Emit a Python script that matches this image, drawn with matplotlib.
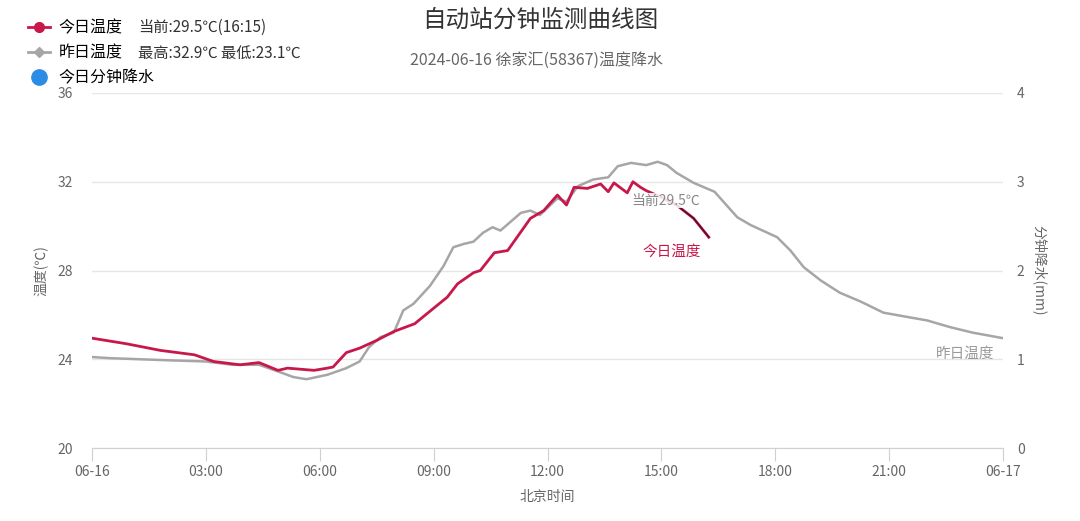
import matplotlib
matplotlib.use("Agg")
import matplotlib.pyplot as plt
from matplotlib.lines import Line2D

plt.rcParams['font.family'] = ['Noto Sans CJK SC', 'DejaVu Sans']

# 今日温度 (hours since 00:00, degC)
today_hours = [0, 0.9, 1.8, 2.7, 3.2, 3.9, 4.4, 4.9, 5.15, 5.85, 6.2, 6.35, 6.7, 7.05,
               7.5, 7.95, 8.5, 9.0, 9.36, 9.63, 10.05, 10.23, 10.6, 10.95, 11.55, 11.9,
               12.26, 12.5, 12.7, 13.05, 13.4, 13.6, 13.75, 14.1, 14.25, 14.45, 14.6,
               15.0, 15.4, 15.85, 16.25]
today_temp = [24.95, 24.7, 24.4, 24.2, 23.9, 23.75, 23.85, 23.5, 23.6, 23.5, 23.6, 23.65,
              24.3, 24.5, 24.85, 25.25, 25.6, 26.3, 26.8, 27.4, 27.9, 28.0, 28.8, 28.9,
              30.35, 30.7, 31.4, 30.95, 31.75, 31.7, 31.9, 31.55, 31.95, 31.5, 32.0,
              31.75, 31.6, 31.3, 30.95, 30.35, 29.5]

# 昨日温度
yest_hours = [0, 0.47, 2.05, 3.0, 3.7, 4.4, 4.9, 5.3, 5.65, 6.2, 6.7, 7.05, 7.3, 7.6,
              7.95, 8.2, 8.47, 8.9, 9.26, 9.52, 9.8, 10.05, 10.3, 10.55, 10.76, 11.3,
              11.55, 11.8, 12.26, 12.5, 12.8, 13.2, 13.6, 13.85, 14.2, 14.6, 14.9, 15.15,
              15.4, 15.85, 16.4, 17.0, 17.35, 18.05, 18.4, 18.75, 19.2, 19.7, 20.25,
              20.85, 21.5, 22.0, 22.6, 23.2, 24.0]
yest_temp = [24.1, 24.05, 23.95, 23.9, 23.75, 23.75, 23.45, 23.2, 23.1, 23.3, 23.6, 23.9,
             24.55, 25.0, 25.2, 26.2, 26.5, 27.3, 28.2, 29.05, 29.2, 29.3, 29.7, 29.95,
             29.8, 30.6, 30.7, 30.5, 31.25, 31.1, 31.8, 32.1, 32.2, 32.7, 32.85, 32.75,
             32.9, 32.75, 32.4, 31.95, 31.55, 30.4, 30.05, 29.5, 28.9, 28.15, 27.55, 27.0,
             26.6, 26.1, 25.9, 25.75, 25.45, 25.2, 24.95]

xtick_pos = [0, 3, 6, 9, 12, 15, 18, 21, 24]
xtick_labels = ['06-16', '03:00', '06:00', '09:00', '12:00', '15:00', '18:00', '21:00', '06-17']
ytick_temp = [20, 24, 28, 32, 36]
ytick_rain = [0, 1, 2, 3, 4]

RED = '#c8174a'
GRAY = '#a6a6a6'
TXT = '#666666'

fig = plt.figure(figsize=(10.8, 5.21), dpi=100)
ax = fig.add_axes([0.0852, 0.1401, 0.8435, 0.6814])

ax.plot(yest_hours, yest_temp, color=GRAY, lw=1.8, zorder=2)
ax.plot(today_hours, today_temp, color=RED, lw=2.0, zorder=3)
ax.plot(today_hours[-3:], today_temp[-3:], color='#4a1028', lw=1.0, zorder=4)

ax.set_xlim(0, 24)
ax.set_ylim(20, 36)
ax.set_xticks(xtick_pos)
ax.set_xticklabels(xtick_labels)
ax.set_yticks(ytick_temp)
ax.grid(axis='y', color='#e6e6e6', lw=1)
ax.set_axisbelow(True)
for s in ['top', 'left', 'right']:
    ax.spines[s].set_visible(False)
ax.spines['bottom'].set_color('#d0d0d0')
ax.tick_params(axis='x', length=9, color='#d0d0d0', colors=TXT, labelsize=10, pad=3)
ax.tick_params(axis='y', length=0, colors=TXT, labelsize=10, pad=14)
ax.set_xlabel('北京时间', color=TXT, fontsize=10, labelpad=8)
ax.set_ylabel('温度(℃)', color=TXT, fontsize=10, labelpad=6)

ax2 = ax.twinx()
ax2.set_ylim(0, 4)
ax2.set_yticks(ytick_rain)
for s in ['top', 'left', 'right', 'bottom']:
    ax2.spines[s].set_visible(False)
ax2.tick_params(axis='y', length=0, colors=TXT, labelsize=10, pad=10)
ax2.set_ylabel('分钟降水(mm)', color=TXT, fontsize=10, rotation=-90, labelpad=16)

# in-plot labels
ax.text(15.12, 31.15, '当前29.5℃', color='#888888', fontsize=10, ha='center', va='center',
        zorder=5, bbox=dict(facecolor='white', edgecolor='none', pad=0.5, alpha=0.85))
ax.text(15.28, 28.85, '今日温度', color=RED, fontsize=10.5, ha='center', va='center',
        fontweight='medium')
ax.text(23.0, 24.25, '昨日温度', color='#999999', fontsize=10.5, ha='center', va='center')

# titles
fig.text(0.5, 0.962, '自动站分钟监测曲线图', ha='center', va='center', color='#333333', fontsize=17)
fig.text(0.497, 0.884, '2024-06-16 徐家汇(58367)温度降水', ha='center', va='center',
         color=TXT, fontsize=11.5)

# legend
handles = [Line2D([], [], color=RED, lw=2, marker='o', ms=7),
           Line2D([], [], color=GRAY, lw=2, marker='D', ms=5),
           Line2D([], [], color='#2b8ce6', lw=0, marker='o', ms=11)]
fig.legend(handles, ['今日温度', '昨日温度', '今日分钟降水'], loc='upper left',
           bbox_to_anchor=(0.026, 0.962), frameon=False, fontsize=11.5, handlelength=1.4,
           handletextpad=0.5, labelspacing=0.5, borderaxespad=0, borderpad=0)
fig.text(0.128, 0.947, '当前:29.5℃(16:15)', ha='left', va='center', color='#333333', fontsize=11)
fig.text(0.128, 0.897, '最高:32.9℃ 最低:23.1℃', ha='left', va='center', color='#333333', fontsize=11)

fig.savefig('out.png', dpi=100)
